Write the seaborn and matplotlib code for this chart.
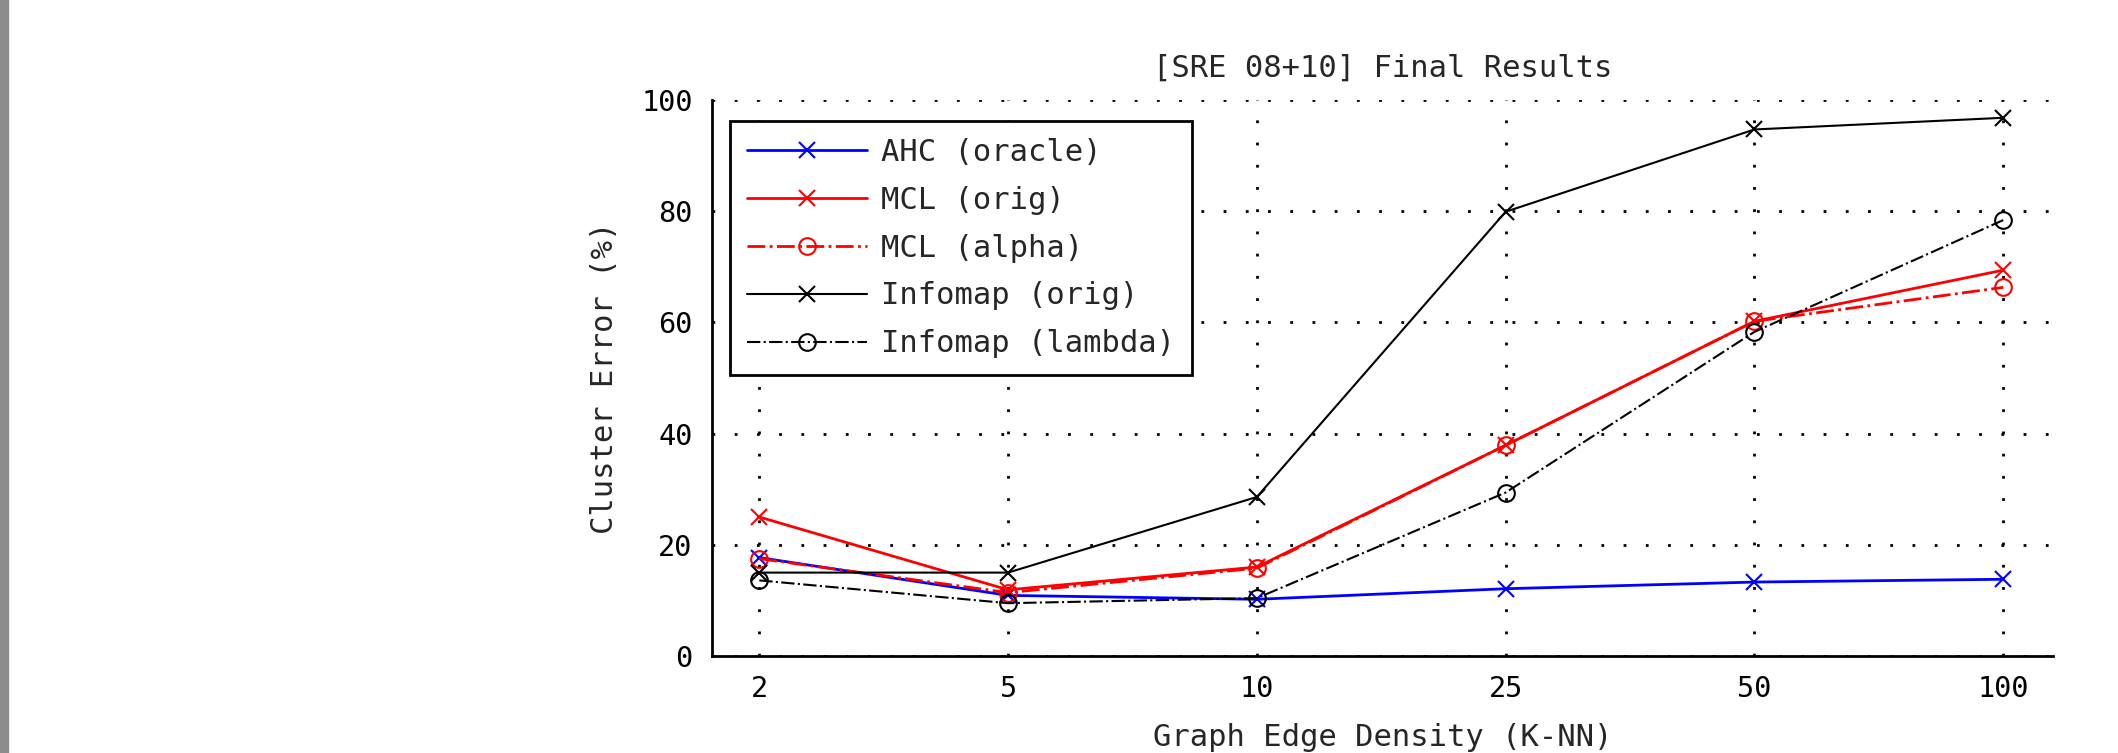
import matplotlib
matplotlib.use("Agg")
import matplotlib.pyplot as plt
import seaborn as sns
import numpy as np
import pandas as pd

categories = ["2", "5", "10", "25", "50", "100"]
ahc_oracle = [17.7, 10.9, 10.2, 12.1, 13.3, 13.8]
mcl_orig = [25.0, 11.9, 16.0, 37.9, 60.2, 69.4]
mcl_alpha = [17.5, 11.4, 15.8, 37.9, 60.2, 66.3]
infomap_orig = [15.0, 15.0, 28.6, 79.9, 94.7, 96.8]
infomap_lambda = [13.6, 9.5, 10.4, 29.4, 58.3, 78.4]

sns.set_style("white")
plt.rcParams['font.family'] = ['DejaVu Sans Mono']
plt.rcParams['font.size'] = 20

FS = 20.5
LFS = 22
fig = plt.figure(figsize=(21.18, 7.53), dpi=100)
fig.patches.append(plt.Rectangle((0, 0), 8/2118, 1, transform=fig.transFigure,
                                 color="#8c8c8c", zorder=0))
ax = fig.add_axes([712/2118, 1-656/753, (2053-712)/2118, (656-100)/753])

x = np.arange(len(categories))
series = [
    ("AHC (oracle)", ahc_oracle, "#0000ff", "-", "x", 2.0),
    ("MCL (orig)", mcl_orig, "#ff0000", "-", "x", 2.0),
    ("MCL (alpha)", mcl_alpha, "#ff0000", "-.", "o", 2.0),
    ("Infomap (orig)", infomap_orig, "#000000", "-", "x", 1.5),
    ("Infomap (lambda)", infomap_lambda, "#000000", "-.", "o", 1.5),
]
for label, vals, color, ls, mk, lw in series:
    sns.lineplot(x=x, y=vals, ax=ax, color=color, linestyle=ls, marker=mk,
                 markersize=12, markerfacecolor="none", markeredgecolor=color,
                 markeredgewidth=1.5, linewidth=lw, label=label)

ax.set_xlim(-0.19, 5.2)
ax.set_ylim(0, 100)
ax.set_xticks(x)
ax.set_xticklabels(categories)
ax.set_yticks([0, 20, 40, 60, 80, 100])
ax.grid(True, color="black", linestyle=(0, (1, 7)), linewidth=2)
for s in ["top", "right"]:
    ax.spines[s].set_visible(False)
for s in ["left", "bottom"]:
    ax.spines[s].set_color("black")
    ax.spines[s].set_linewidth(2)
ax.tick_params(direction="in", length=14, width=2, colors="black", labelsize=FS, pad=14)
ax.set_title("[SRE 08+10] Final Results", fontsize=LFS, pad=17)
ax.set_xlabel("Graph Edge Density (K-NN)", fontsize=LFS, labelpad=14)
ax.set_ylabel("Cluster Error (%)", fontsize=LFS, labelpad=16)
leg = ax.legend(loc="upper left", bbox_to_anchor=(0.002, 0.99), fontsize=LFS,
                frameon=True, fancybox=False, edgecolor="black", framealpha=1,
                handlelength=3.95, labelspacing=0.62, borderpad=0.55, handletextpad=0.45)
leg.get_frame().set_linewidth(2)

fig.savefig("out.png", dpi=100)
